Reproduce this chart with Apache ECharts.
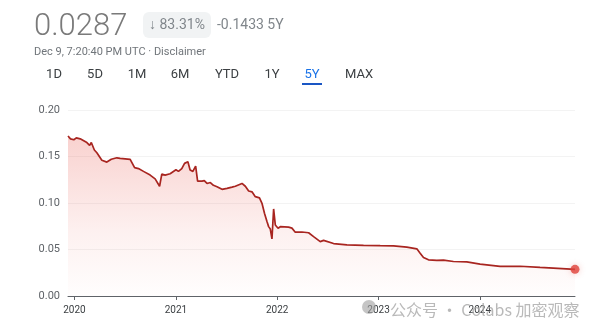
<!DOCTYPE html>
<html>
<head>
<meta charset="utf-8">
<script src="https://cdn.jsdelivr.net/npm/echarts@6/dist/echarts.min.js"></script>
<style>
html,body{margin:0;padding:0;background:#fff;}
#chart{width:600px;height:333px;}
</style>
</head>
<body>
<div id="chart"></div>
<script>
var dates = ['2019-12-09','2019-12-18','2019-12-30','2020-01-08','2020-01-22','2020-02-15','2020-02-25','2020-03-02','2020-03-13','2020-03-22',
'2020-03-28','2020-04-09','2020-04-27','2020-05-03','2020-05-13','2020-06-02','2020-06-14','2020-07-20','2020-08-05','2020-08-19',
'2020-09-06','2020-09-30','2020-10-18','2020-10-24','2020-11-03','2020-11-11','2020-11-23','2020-11-29','2020-12-11','2021-01-01',
'2021-01-10','2021-01-22','2021-02-01','2021-02-13','2021-02-21','2021-03-03','2021-03-13','2021-03-20','2021-04-05','2021-04-13',
'2021-04-23','2021-05-05','2021-05-16','2021-05-29','2021-06-05','2021-06-16','2021-07-04','2021-07-22','2021-08-03','2021-08-09',
'2021-08-27','2021-09-08','2021-09-20','2021-10-02','2021-10-14','2021-10-29','2021-11-07','2021-11-16','2021-11-25','2021-12-01',
'2021-12-07','2021-12-13','2021-12-19','2021-12-25','2022-01-04','2022-01-12','2022-02-11','2022-02-23','2022-03-07','2022-03-31',
'2022-04-24','2022-05-12','2022-06-05','2022-06-17','2022-07-23','2022-09-09','2022-11-08','2023-01-07','2023-02-24','2023-04-13',
'2023-05-19','2023-05-31','2023-06-12','2023-06-30','2023-07-30','2023-08-23','2023-09-28','2023-11-15','2024-01-02','2024-03-14',
'2024-05-25','2024-08-05','2024-09-22','2024-12-09'];
var prices = [0.172,0.169,0.168,0.170,0.169,0.165,0.162,0.165,0.157,0.154,
0.155,0.146,0.144,0.142,0.147,0.1486,0.148,0.147,0.138,0.137,
0.134,0.130,0.126,0.1247,0.118,0.131,0.130,0.128,0.1315,0.1357,
0.134,0.137,0.1426,0.1443,0.1354,0.134,0.1397,0.1236,0.1236,0.124,
0.121,0.122,0.119,0.1175,0.119,0.1147,0.1157,0.117,0.118,0.117,
0.121,0.118,0.1129,0.112,0.1068,0.1055,0.0997,0.089,0.080,0.0746,
0.072,0.0614,0.0936,0.0764,0.0729,0.0745,0.074,0.073,0.0686,0.0688,
0.068,0.0639,0.0585,0.0598,0.0564,0.055,0.0545,0.0541,0.0538,0.0525,
0.0507,0.046,0.0414,0.0389,0.0383,0.0385,0.0371,0.0366,0.0343,0.0318,
0.032,0.0307,0.030,0.0287];
var yTicks = [0, 0.05, 0.10, 0.15, 0.20];
var tabs = ['1D','5D','1M','6M','YTD','1Y','5Y','MAX'];
var tabX = [54, 95, 137, 180, 227, 272, 312, 359];
var activeTab = '5Y';
var priceText = '0.0287';
var changePct = '\u2193 83.31%';
var changeAbs = '-0.1433 5Y';
var stampText = 'Dec 9, 7:20:40 PM UTC \u00b7 Disclaimer';
var watermark = '\u516c\u4f17\u53f7 \u00b7 Colabs \u52a0\u5bc6\u89c2\u5bdf';

var lineData = dates.map(function(d, i){ return [d, prices[i]]; });
var lastPoint = [[dates[dates.length-1], prices[prices.length-1]]];

var chart = echarts.init(document.getElementById('chart'), null, {renderer:'canvas'});
var graphics = [
  {type:'text', x:34, y:27, style:{text:priceText, font:'300 31px Roboto', fill:'#7a7a7a', textAlign:'left', textVerticalAlign:'middle'}},
  {type:'rect', shape:{x:143, y:12, width:68, height:26, r:6}, style:{fill:'#f1f3f4'}},
  {type:'text', x:149, y:25, style:{text:changePct, font:'14px Roboto', fill:'#80868b', textAlign:'left', textVerticalAlign:'middle'}},
  {type:'text', x:217, y:25, style:{text:changeAbs, font:'14px Roboto', fill:'#80868b', textAlign:'left', textVerticalAlign:'middle'}},
  {type:'text', x:34, y:52, style:{text:stampText, font:'11px Roboto', fill:'#70757a', textAlign:'left', textVerticalAlign:'middle'}},
  {type:'rect', shape:{x:302, y:83, width:20, height:2}, style:{fill:'#1a56c4'}},
  {type:'circle', shape:{cx:369, cy:307, r:7}, style:{fill:'#9e9e9e', opacity:0.6}, z:1},
  {type:'text', x:390, y:310, z:1, style:{text:watermark, font:'16px "Noto Sans CJK SC"', fill:'#a8a8a8', opacity:0.8, textAlign:'left', textVerticalAlign:'middle'}}
];
tabs.forEach(function(t, i){
  graphics.push({type:'text', x:tabX[i], y:75, style:{text:t, font:'13px Roboto', fill: t === activeTab ? '#1a73e8' : '#3c4043', textAlign:'center', textVerticalAlign:'middle'}});
});

chart.setOption({
  animation:false,
  backgroundColor:'#ffffff',
  graphic: graphics,
  grid:{left:68, right:25, top:110, bottom:37},
  xAxis:{
    type:'time',
    min: dates[0],
    max: dates[dates.length-1],
    minInterval: 365*24*3600*1000,
    maxInterval: 366*24*3600*1000,
    axisLine:{show:true, lineStyle:{color:'#5f6368', width:1}},
    axisTick:{show:true, length:4, lineStyle:{color:'#5f6368'}},
    axisLabel:{formatter:'{yyyy}', color:'#3c4043', fontSize:10, fontFamily:'Roboto', margin:9, showMinLabel:false, showMaxLabel:false, backgroundColor:'#ffffff'},
    splitLine:{show:false}
  },
  yAxis:{
    type:'value',
    min: yTicks[0],
    max: yTicks[yTicks.length-1],
    interval: 0.05,
    axisLine:{show:false},
    axisTick:{show:false},
    axisLabel:{formatter:function(v){return v.toFixed(2);}, color:'#5f6368', fontSize:11, fontFamily:'Roboto', margin:8},
    splitLine:{show:true, lineStyle:{color:'#f3f3f3', width:1}}
  },
  series:[
    {
      type:'line',
      data: lineData,
      symbol:'none',
      lineStyle:{color:'#a82520', width:1.7},
      areaStyle:{color:new echarts.graphic.LinearGradient(0,0,0,1,[
        {offset:0, color:'rgba(232,85,75,0.38)'},
        {offset:0.6, color:'rgba(232,85,75,0.12)'},
        {offset:1, color:'rgba(232,85,75,0.01)'}
      ])},
      z:2
    },
    {
      type:'scatter',
      data: lastPoint,
      symbol:'circle',
      symbolSize:9,
      itemStyle:{color:'#e0413a', shadowBlur:6, shadowColor:'rgba(224,65,58,0.35)'},
      z:3
    }
  ]
});
</script>
</body>
</html>
